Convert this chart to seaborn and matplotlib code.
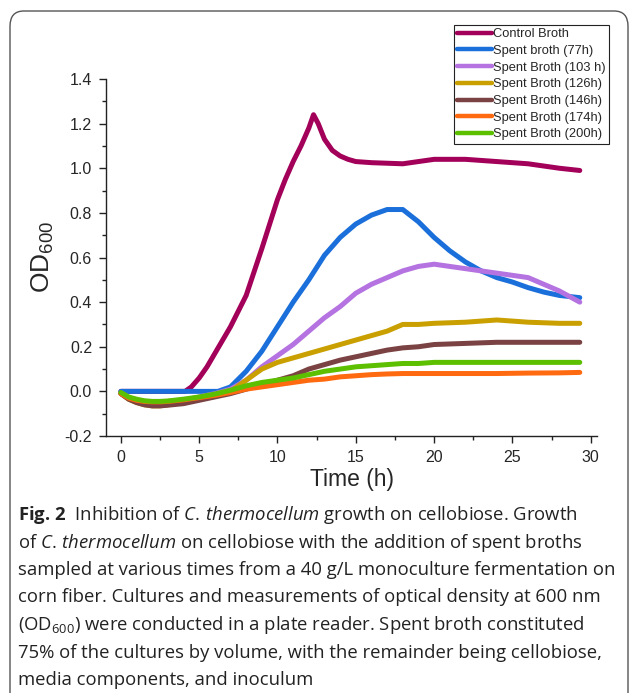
import seaborn as sns
import pandas as pd
import matplotlib.pyplot as plt
from matplotlib.patches import FancyBboxPatch

# OD600 readings (approximate)
control_t = [0, 4.1, 4.5, 5, 5.5, 6, 6.5, 7, 7.5, 8, 9, 10, 10.5, 11, 11.5, 12, 12.3,
             12.6, 13, 13.5, 14, 14.5, 15, 16, 18, 20, 22, 24, 26, 28, 29.3]
control_od = [0, 0, 0.02, 0.06, 0.11, 0.17, 0.23, 0.29, 0.36, 0.43, 0.64, 0.86, 0.95, 1.03,
              1.1, 1.18, 1.24, 1.2, 1.13, 1.08, 1.055, 1.04, 1.03, 1.025, 1.02, 1.04,
              1.04, 1.03, 1.02, 1.0, 0.99]

blue_t = [0, 6.2, 7, 8, 9, 10, 11, 12, 13, 14, 15, 16, 17, 18, 19, 20, 21, 22, 23,
          24, 25, 26, 27, 28, 29.3]
blue_od = [0, 0, 0.02, 0.09, 0.18, 0.29, 0.4, 0.5, 0.61, 0.69, 0.75, 0.79, 0.815,
           0.815, 0.76, 0.69, 0.63, 0.58, 0.54, 0.51, 0.49, 0.465, 0.445, 0.43, 0.42]

low_t = [0, 0.5, 1, 1.5, 2, 2.5, 3, 4, 5, 6, 7, 8, 9, 10, 11, 12, 13, 14, 15, 16,
         17, 18, 19, 20, 22, 24, 26, 28, 29.3]
purple_od = [-0.01, -0.03, -0.04, -0.05, -0.055, -0.055, -0.05, -0.04, -0.025, -0.01,
             0.01, 0.05, 0.11, 0.16, 0.21, 0.27, 0.33, 0.38, 0.44, 0.48, 0.51, 0.54,
             0.56, 0.57, 0.55, 0.53, 0.51, 0.45, 0.40]
gold_od = [-0.01, -0.035, -0.05, -0.06, -0.065, -0.065, -0.06, -0.05, -0.035, -0.02,
           0.0, 0.05, 0.1, 0.13, 0.15, 0.17, 0.19, 0.21, 0.23, 0.25, 0.27, 0.3, 0.3,
           0.305, 0.31, 0.32, 0.31, 0.305, 0.305]
brown_od = [-0.01, -0.035, -0.05, -0.06, -0.065, -0.065, -0.062, -0.055, -0.04, -0.025,
            -0.01, 0.01, 0.03, 0.05, 0.07, 0.1, 0.12, 0.14, 0.155, 0.17, 0.185, 0.195,
            0.2, 0.21, 0.215, 0.22, 0.22, 0.22, 0.22]
orange_od = [-0.01, -0.03, -0.04, -0.045, -0.047, -0.047, -0.045, -0.038, -0.028, -0.018,
             -0.005, 0.01, 0.02, 0.03, 0.04, 0.05, 0.055, 0.065, 0.07, 0.075, 0.078,
             0.08, 0.08, 0.08, 0.08, 0.08, 0.082, 0.083, 0.085]
green_od = [-0.005, -0.025, -0.035, -0.042, -0.045, -0.045, -0.043, -0.035, -0.025,
            -0.012, 0.005, 0.025, 0.04, 0.05, 0.06, 0.075, 0.09, 0.1, 0.11, 0.115, 0.12,
            0.125, 0.125, 0.13, 0.13, 0.13, 0.13, 0.13, 0.13]

labels = ['Control Broth', 'Spent broth (77h)', 'Spent Broth (103 h)', 'Spent Broth (126h)',
          'Spent Broth (146h)', 'Spent Broth (174h)', 'Spent Broth (200h)']
colors = ['#a3005a', '#1b6fdb', '#b473e0', '#c9a000', '#7a4242', '#ff6a10', '#5cbf00']

series = [(control_t, control_od), (blue_t, blue_od), (low_t, purple_od), (low_t, gold_od),
          (low_t, brown_od), (low_t, orange_od), (low_t, green_od)]

rows = []
for name, (tt, od) in zip(labels, series):
    for a, b in zip(tt, od):
        rows.append({'time': a, 'od': b, 'sample': name})
df = pd.DataFrame(rows)

sns.set_style('ticks')
plt.rcParams['font.family'] = ['Liberation Sans', 'DejaVu Sans']
plt.rcParams['mathtext.default'] = 'regular'

fig = plt.figure(figsize=(6.29, 6.93), dpi=100)
ax = fig.add_axes([106 / 629, 1 - 436 / 693, (597 - 106) / 629, (436 - 79) / 693])

sns.lineplot(data=df, x='time', y='od', hue='sample', hue_order=labels,
             palette=dict(zip(labels, colors)), sort=False, linewidth=3.6,
             estimator=None, ax=ax, legend=True)

ax.set_xlim(-0.95, 30.4)
ax.set_ylim(-0.2, 1.4)
ax.set_xticks([0, 5, 10, 15, 20, 25, 30])
ax.set_xticks([2.5, 7.5, 12.5, 17.5, 22.5, 27.5], minor=True)
ax.set_yticks([-0.2, 0.0, 0.2, 0.4, 0.6, 0.8, 1.0, 1.2, 1.4])
ax.set_yticks([-0.1, 0.1, 0.3, 0.5, 0.7, 0.9, 1.1, 1.3], minor=True)
ax.set_yticklabels(['-0.2', '0.0', '0.2', '0.4', '0.6', '0.8', '1.0', '1.2', '1.4'])
ax.tick_params(which='major', length=5, width=1, labelsize=11.5, color='#222222', pad=5)
ax.tick_params(which='minor', length=3, width=1, color='#222222')
for s in ['top', 'right']:
    ax.spines[s].set_visible(False)
for s in ['left', 'bottom']:
    ax.spines[s].set_color('#222222')
    ax.spines[s].set_linewidth(1)
ax.set_xlabel('Time (h)', fontsize=16.5, labelpad=2)
ax.set_ylabel('OD$_{600}$', fontsize=19, labelpad=6)

handles, _ = ax.get_legend_handles_labels()
leg = ax.legend(handles, labels, loc='upper left', bbox_to_anchor=(454 / 629, 1 - 25 / 693),
                bbox_transform=fig.transFigure, fontsize=9.3, frameon=True, fancybox=False,
                edgecolor='#222222', framealpha=1, handlelength=2.7, handletextpad=0.1,
                labelspacing=0.36, borderpad=0.25, borderaxespad=0)
leg.get_frame().set_linewidth(0.8)
for h in leg.get_lines():
    h.set_linewidth(3.2)

# rounded panel frame around figure and caption
frame = FancyBboxPatch((10 / 629, -0.05), 618 / 629, 1.05 - 11 / 693,
                       boxstyle='round,pad=0,rounding_size=0.022',
                       transform=fig.transFigure, fill=False, edgecolor='#555555',
                       linewidth=1, clip_on=False)
fig.patches.append(frame)

# caption
plt.rcParams['mathtext.fontset'] = 'custom'
plt.rcParams['mathtext.rm'] = 'Open Sans'
plt.rcParams['mathtext.it'] = 'Open Sans:italic'
plt.rcParams['mathtext.bf'] = 'Open Sans:bold'
caption = [
    r'$\mathbf{Fig.\!\;2}$  Inhibition of $\mathit{C.\,thermocellum}$ growth on cellobiose. Growth',
    r'of $\mathit{C.\,thermocellum}$ on cellobiose with the addition of spent broths',
    'sampled at various times from a 40 g/L monoculture fermentation on',
    'corn fiber. Cultures and measurements of optical density at 600 nm',
    r'(OD$_{600}$) were conducted in a plate reader. Spent broth constituted',
    '75% of the cultures by volume, with the remainder being cellobiose,',
    'media components, and inoculum',
]
# fit caption size to the widest line in the reference (~594 px)
probe = fig.text(18 / 629, 0.1, caption[2], family='Open Sans', fontsize=12)
fig.canvas.draw()
w = probe.get_window_extent().width
probe.remove()
cap_size = 12 * 594 / w

for i, line in enumerate(caption):
    fig.text(18 / 629, 1 - (520 + 27.5 * i) / 693, line, family='Open Sans',
             fontsize=cap_size, va='baseline', ha='left', color='#222222')

fig.savefig('out.png', dpi=100)
